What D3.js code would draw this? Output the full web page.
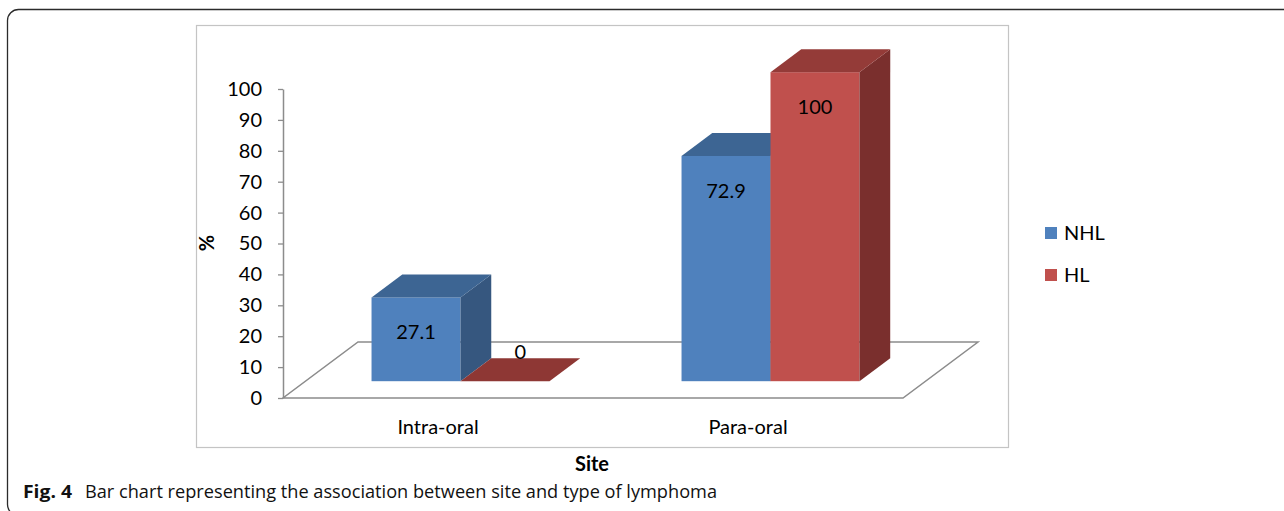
<!DOCTYPE html>
<html>
<head>
<meta charset="utf-8">
<script src="https://cdn.jsdelivr.net/npm/d3@7"></script>
<style>
  html, body { margin: 0; padding: 0; background: #fff; }
  svg { display: block; }
</style>
</head>
<body>
<svg id="chart" width="1284" height="511"></svg>
<script>
// ---- data ----
const categories = ["Intra-oral", "Para-oral"];
const seriesNames = ["NHL", "HL"];
const nhlValues = [27.1, 72.9];
const hlValues = [0, 100];
const yTicks = [0, 10, 20, 30, 40, 50, 60, 70, 80, 90, 100];
const xTitle = "Site";
const yTitle = "%";
const captionBold = "Fig. 4";
const captionText = "Bar chart representing the association between site and type of lymphoma";

const seriesValues = [nhlValues, hlValues];
const colors = {
  NHL: { front: "#4F81BD", top: "#3D6593", side: "#36577F" },
  HL:  { front: "#C0504D", top: "#943B38", side: "#7A2F2D" }
};

const svg = d3.select("#chart");
const FONT = "Lato, 'Open Sans', sans-serif";
const FS = 20;

// outer rounded frame
svg.append("rect")
  .attr("x", 7.5).attr("y", 9.5)
  .attr("width", 1320).attr("height", 506)
  .attr("rx", 11).attr("ry", 11)
  .attr("fill", "none").attr("stroke", "#2b2b2b").attr("stroke-width", 1.3);

// chart area frame
svg.append("rect")
  .attr("x", 196.5).attr("y", 25.5)
  .attr("width", 812).attr("height", 422)
  .attr("fill", "#fff").attr("stroke", "#c4c4c4").attr("stroke-width", 1.2);

// scales
const y = d3.scaleLinear().domain([0, 100]).range([398, 89]);
const x0 = d3.scaleBand().domain(categories).range([283, 903])
  .paddingInner(0.426).paddingOuter(0.213);
const x1 = d3.scaleBand().domain(seriesNames).range([0, x0.bandwidth()]).padding(0);

// 3D depth (floor depth vector) and bar placement in depth
const depth = { dx: 75, dy: -56 };
const barFront = 0.30, barBack = 0.71;
const fx = depth.dx * barFront, fy = depth.dy * barFront;
const bdx = depth.dx * (barBack - barFront), bdy = depth.dy * (barBack - barFront);

// floor
const floor = svg.append("g").attr("fill", "none").attr("stroke", "#8c8c8c").attr("stroke-width", 1.5);
const [fl, fr] = x0.range();
const y0 = y(0);
floor.append("path").attr("d",
  `M${fl},${y0} L${fr},${y0} L${fr + depth.dx},${y0 + depth.dy} L${fl + depth.dx},${y0 + depth.dy} Z`);

// y axis
const yAxis = d3.axisLeft(y).tickValues(yTicks).tickSizeInner(5).tickSizeOuter(0).tickPadding(16);
const gy = svg.append("g").attr("transform", `translate(${fl},0)`).call(yAxis);
gy.select(".domain").attr("stroke", "#8c8c8c").attr("stroke-width", 1.5);
gy.selectAll(".tick line").attr("stroke", "#8c8c8c").attr("stroke-width", 1.3);
gy.selectAll(".tick text").attr("font-family", FONT).attr("font-size", FS).attr("fill", "#000");

// bars
const bars = [];
categories.forEach((c, ci) => {
  seriesNames.forEach((s, si) => {
    bars.push({ cat: c, series: s, value: seriesValues[si][ci] });
  });
});

const gb = svg.append("g");
bars.forEach(b => {
  const xl = x0(b.cat) + x1(b.series) + fx;
  const xr = xl + x1.bandwidth();
  const yb = y(0) + fy;
  const yt = y(b.value) + fy;
  const col = colors[b.series];
  if (b.value > 0) {
    gb.append("rect").attr("x", xl).attr("y", yt).attr("width", xr - xl).attr("height", yb - yt)
      .attr("fill", col.front);
    gb.append("path").attr("d",
      `M${xr},${yt} L${xr + bdx},${yt + bdy} L${xr + bdx},${yb + bdy} L${xr},${yb} Z`).attr("fill", col.side);
  }
  gb.append("path").attr("d",
    `M${xl},${yt} L${xr},${yt} L${xr + bdx},${yt + bdy} L${xl + bdx},${yt + bdy} Z`)
    .attr("fill", b.value > 0 ? col.top : "#8E3734");
  // data label
  const lx = b.value > 0 ? (xl + xr) / 2 : (xl + xr) / 2 + bdx / 2;
  const ly = b.value > 0 ? yt + 35 : yt - 29;
  gb.append("text").attr("x", lx).attr("y", ly).attr("dy", "0.35em")
    .attr("text-anchor", "middle").attr("font-family", FONT).attr("font-size", FS)
    .attr("fill", "#000").text(d3.format("")(b.value));
});

// category labels, centred in their share of the floor's front edge
const catScale = d3.scaleBand().domain(categories).range([fl, fr]);
svg.append("g").selectAll("text").data(categories).join("text")
  .attr("x", d => catScale(d) + catScale.bandwidth() / 2)
  .attr("y", 434)
  .attr("text-anchor", "middle").attr("font-family", FONT).attr("font-size", FS).attr("fill", "#000")
  .text(d => d);

// axis titles
svg.append("text").attr("x", 592).attr("y", 471).attr("text-anchor", "middle")
  .attr("font-family", FONT).attr("font-size", FS).attr("font-weight", "bold").attr("fill", "#000")
  .text(xTitle);
svg.append("text").attr("transform", "translate(214,243) rotate(-90)").attr("text-anchor", "middle")
  .attr("font-family", FONT).attr("font-size", FS).attr("font-weight", "bold").attr("fill", "#000")
  .text(yTitle);

// legend
const lg = svg.append("g").attr("transform", "translate(1045,227)");
seriesNames.forEach((s, i) => {
  const g = lg.append("g").attr("transform", `translate(0,${i * 42})`);
  g.append("rect").attr("width", 12).attr("height", 12).attr("fill", colors[s].front);
  g.append("text").attr("x", 19).attr("y", 6).attr("dy", "0.35em")
    .attr("font-family", FONT).attr("font-size", FS).attr("fill", "#000").text(s);
});

// caption
const cap = svg.append("text").attr("x", 23).attr("y", 498)
  .attr("font-family", "'Open Sans', 'Noto Sans', sans-serif").attr("font-size", 18).attr("fill", "#111");
cap.append("tspan").attr("font-weight", "bold").attr("textLength", 49).attr("lengthAdjust", "spacingAndGlyphs").text(captionBold);
cap.append("tspan").attr("x", 85).attr("textLength", 632).attr("lengthAdjust", "spacingAndGlyphs").text(captionText);
</script>
</body>
</html>
